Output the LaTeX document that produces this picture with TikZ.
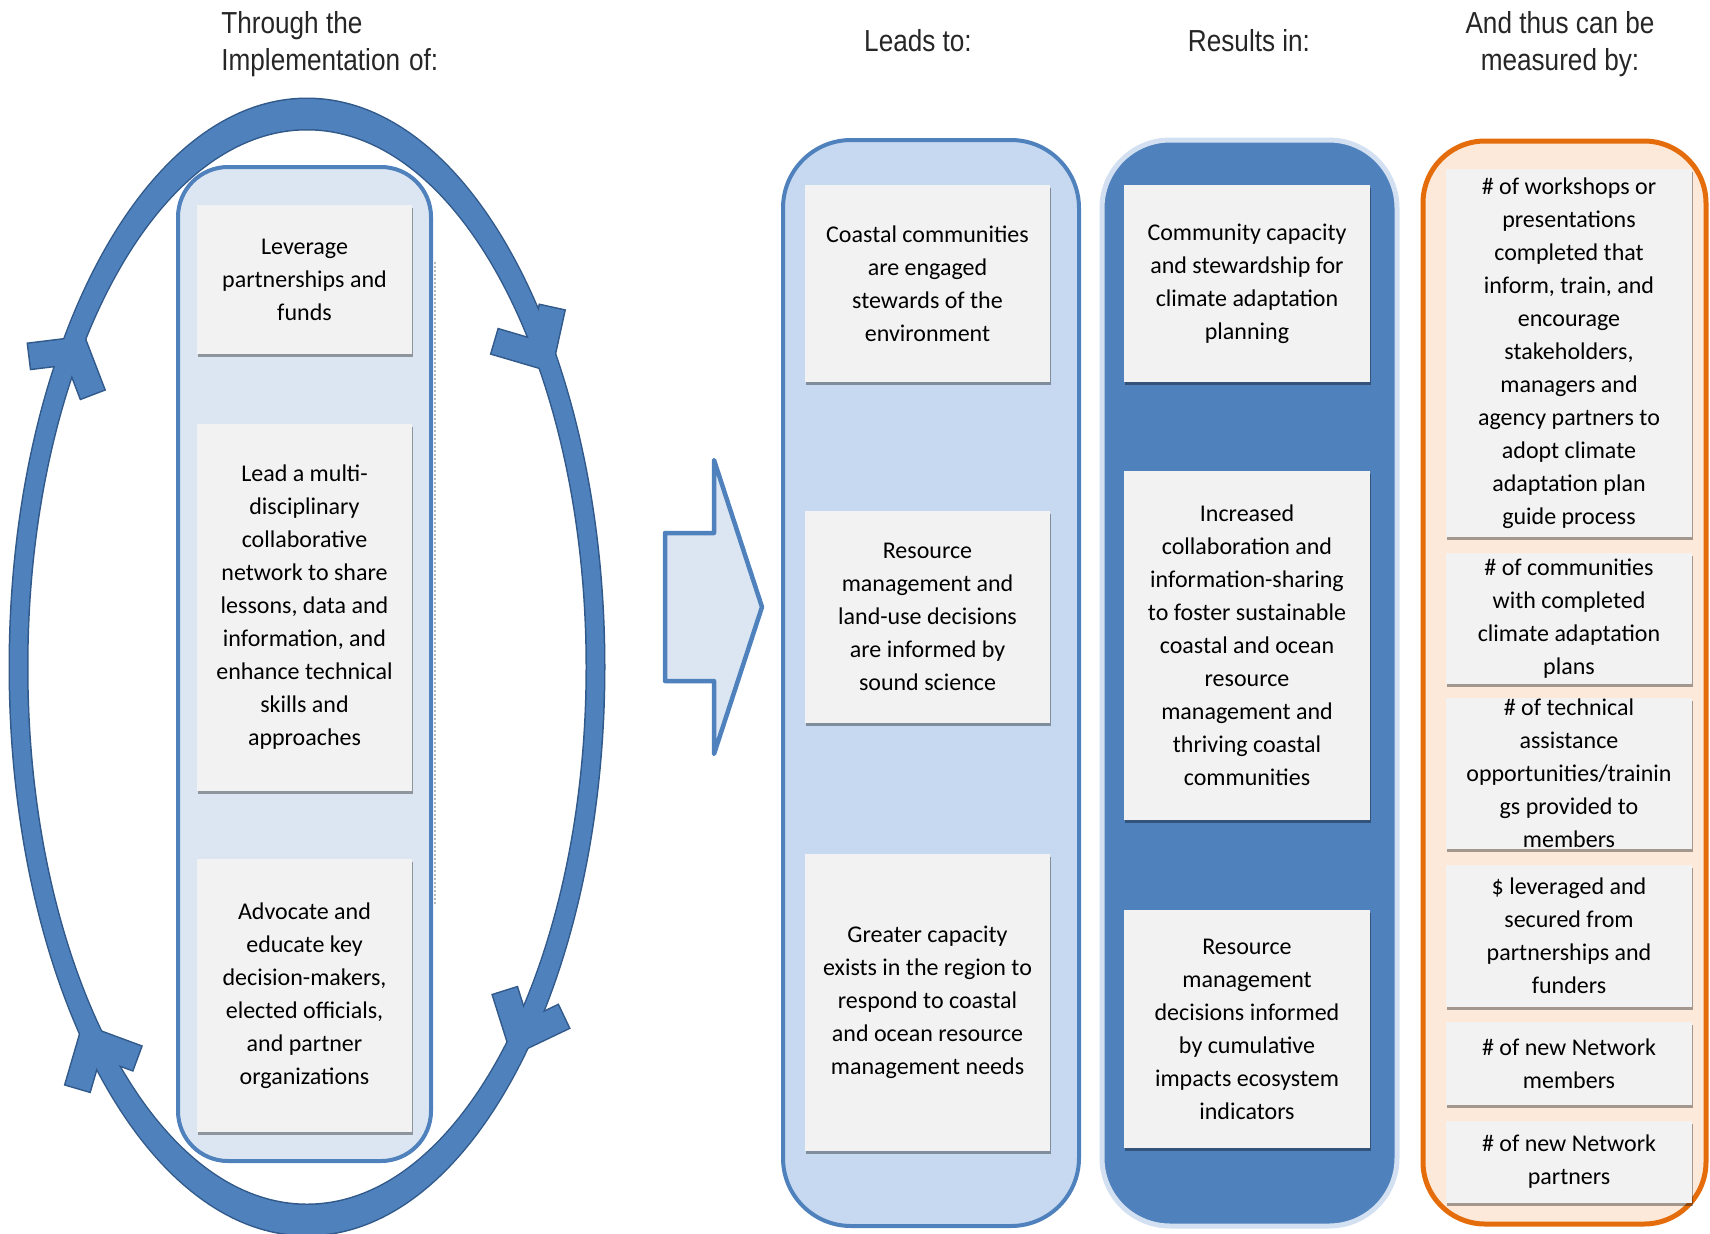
\documentclass[tikz,border=0pt]{standalone}
\usepackage{fontspec}
\setmainfont{Carlito}
\newfontfamily\hdrfont[FakeStretch=0.86]{Liberation Sans}
\usetikzlibrary{shadows}
\newdimen\px \px=0.5pt
\definecolor{ringblue}{HTML}{4F81BD}
\definecolor{ringdark}{HTML}{31598A}
\definecolor{paleblue}{HTML}{DCE6F2}
\definecolor{lightblue}{HTML}{C6D9F1}
\definecolor{haloblue}{HTML}{D3E0F1}
\definecolor{boxgray}{HTML}{F2F2F2}
\definecolor{orangeline}{HTML}{E46C0A}
\definecolor{orangefill}{HTML}{FDE9D9}
\def\cht{25}
\newcommand\mychev[6]{%
  \pgfmathsetmacro\chd{(\cht/2)/sin(#4)}%
  \pgfmathsetmacro\chcx{#1-\chd*cos(#3)}%
  \pgfmathsetmacro\chcy{#2-\chd*sin(#3)}%
  \pgfmathsetmacro\chax{\chcx+#5*cos(#3+180+#4)}%
  \pgfmathsetmacro\chay{\chcy+#5*sin(#3+180+#4)}%
  \pgfmathsetmacro\chbx{\chcx+#5*cos(#3+180-#4)}%
  \pgfmathsetmacro\chby{\chcy+#5*sin(#3+180-#4)}%
  \draw[#6] (\chax,\chay) -- (\chcx,\chcy) -- (\chbx,\chby);%
}
\begin{document}
\begin{tikzpicture}[x=0.5pt,y=-0.5pt,
  box/.style={fill=boxgray, draw=none, inner sep=0pt, align=center,
    font=\fontsize{12pt}{16.5pt}\selectfont,
    drop shadow={shadow xshift=0.6pt, shadow yshift=-1.5pt, opacity=0.35, fill=black}},
  hdr/.style={inner sep=0pt, text=black!85, font=\hdrfont\fontsize{15.2pt}{18.5pt}\selectfont},
  chevdark/.style={draw=ringdark, line width=14pt, line cap=rect, line join=miter},
  chevfill/.style={draw=ringblue, line width=12.5pt, line cap=rect, line join=miter}]
\useasboundingbox (0,0) rectangle (1710,1233);
\fill[white] (0,0) rectangle (1710,1233);
\clip (0,0) rectangle (1710,1233);

% headers
\node[hdr, anchor=west, align=left] (h1) at (221,44) {Through the\\Implementation\hspace{4.5pt}of:};
\node[hdr] (h2) at (918,41) {Leads to:};
\node[hdr] (h3) at (1249,41) {Results in:};
\node[hdr, align=center] (h4) at (1560,44) {And thus can be\\measured by:};

% cycle ring (two passes so the outline merges)
\fill[ringdark, even odd rule] (307,667) ellipse [x radius=298.5, y radius=569.5]
  (307,667) ellipse [x radius=278.5, y radius=536.5];
\mychev{84}{337}{-59}{52}{34}{chevdark}
\mychev{551}{371}{59.4}{43}{36}{chevdark}
\mychev{512}{1055}{113.5}{41}{36}{chevdark}
\mychev{83}{1025}{243.3}{43}{36}{chevdark}
\fill[ringblue, even odd rule] (307,667) ellipse [x radius=297, y radius=568]
  (307,667) ellipse [x radius=280, y radius=538];
\mychev{84}{337}{-59}{52}{34}{chevfill}
\mychev{551}{371}{59.4}{43}{36}{chevfill}
\mychev{512}{1055}{113.5}{41}{36}{chevfill}
\mychev{83}{1025}{243.3}{43}{36}{chevfill}

% left container
\draw[draw=ringblue, fill=paleblue, line width=4\px, rounded corners=50\px] (178,167) rectangle (431,1161);
\draw[black!28, line width=1.5\px, dash pattern=on 2\px off 2\px] (435,262) -- (435,905);
\node[box, minimum width=215\px, minimum height=149\px] (l1) at (304.5,279.5) {Leverage\\partnerships and\\funds};
\node[box, minimum width=215\px, minimum height=367\px] (l2) at (304.5,607.5) {Lead a multi-\\disciplinary\\collaborative\\network to share\\lessons, data and\\information, and\\enhance technical\\skills and\\approaches};
\node[box, minimum width=215\px, minimum height=273\px] (l3) at (304.5,995.5) {Advocate and\\educate key\\decision-makers,\\elected officials,\\and partner\\organizations};

% block arrow
\draw[draw=ringblue, fill=paleblue, line width=4.5\px, line join=round]
  (665,533) -- (714,533) -- (714,460) -- (762,607) -- (714,754) -- (714,681) -- (665,681) -- cycle;

% column 2
\draw[draw=ringblue, fill=lightblue, line width=4\px, rounded corners=68\px] (783,140) rectangle (1079,1226);
\node[box, minimum width=245\px, minimum height=197\px] (c1) at (927.5,283.5) {Coastal communities\\are engaged\\stewards of the\\environment};
\node[box, minimum width=245\px, minimum height=212\px] (c2) at (927.5,617) {Resource\\management and\\land-use decisions\\are informed by\\sound science};
\node[box, minimum width=245\px, minimum height=297\px] (c3) at (927.5,1002.5) {Greater capacity\\exists in the region to\\respond to coastal\\and ocean resource\\management needs};

% column 3
\draw[draw=haloblue, fill=ringblue, line width=5\px, rounded corners=68\px] (1102,140) rectangle (1397,1226);
\node[box, minimum width=246\px, minimum height=197\px] (r1) at (1247,283.5) {Community capacity\\and stewardship for\\climate adaptation\\planning};
\node[box, minimum width=246\px, minimum height=349\px] (r2) at (1247,645.5) {Increased\\collaboration and\\information-sharing\\to foster sustainable\\coastal and ocean\\resource\\management and\\thriving coastal\\communities};
\node[box, minimum width=246\px, minimum height=238\px] (r3) at (1247,1029) {Resource\\management\\decisions informed\\by cumulative\\impacts ecosystem\\indicators};

% column 4
\draw[draw=orangeline, fill=orangefill, line width=5\px, rounded corners=62\px] (1423,141) rectangle (1706,1224);
\node[box, minimum width=246\px, minimum height=368\px] (m1) at (1569,353) {\# of workshops or\\presentations\\completed that\\inform, train, and\\encourage\\stakeholders,\\managers and\\agency partners to\\adopt climate\\adaptation plan\\guide process};
\node[box, minimum width=246\px, minimum height=131\px] (m2) at (1569,618.5) {\# of communities\\with completed\\climate adaptation\\plans};
\node[box, minimum width=246\px, minimum height=151\px] (m3) at (1569,773.5) {\# of technical\\assistance\\opportunities/trainin\\gs provided to\\members};
\node[box, minimum width=246\px, minimum height=142\px] (m4) at (1569,936) {\$ leveraged and\\secured from\\partnerships and\\funders};
\node[box, minimum width=246\px, minimum height=83\px] (m5) at (1569,1063.5) {\# of new Network\\members};
\node[box, minimum width=246\px, minimum height=82\px] (m6) at (1569,1162) {\# of new Network\\partners};
\end{tikzpicture}
\end{document}
